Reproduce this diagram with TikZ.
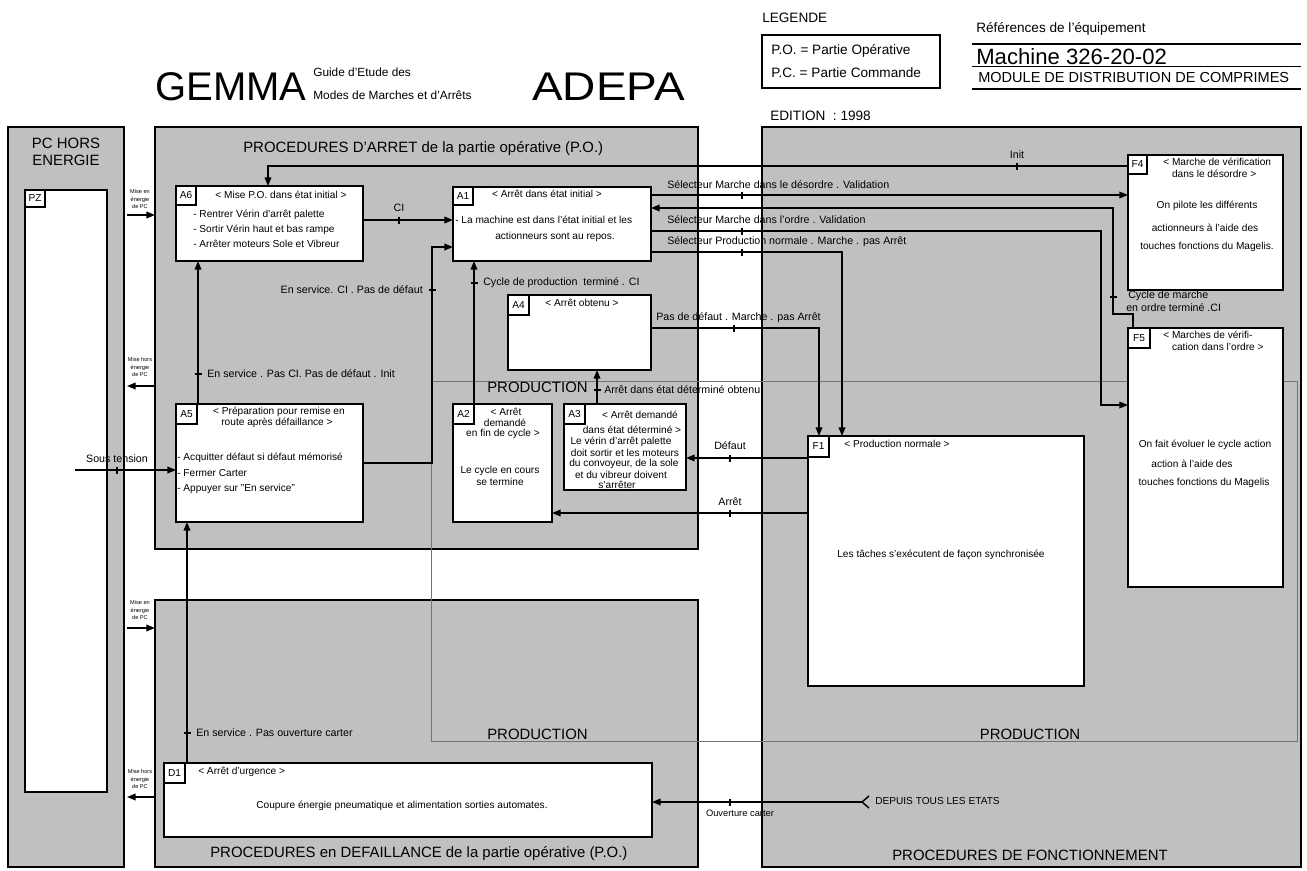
\documentclass[tikz,border=0pt]{standalone}
\usepackage{fontspec}
\setmainfont{Liberation Sans}
\usetikzlibrary{arrows.meta}
\definecolor{pgray}{RGB}{192,192,192}
\definecolor{lgray}{RGB}{115,115,115}
\newcommand\fsBox{\fontsize{7.6}{9}\selectfont}
\newcommand\fsLab{\fontsize{8}{9.5}\selectfont}
\newcommand\fsTit{\fontsize{11.2}{13}\selectfont}
\newcommand\fsTiny{\fontsize{4.2}{5.6}\selectfont}
\newcommand\fsHead{\fontsize{10.2}{12}\selectfont}
\newcommand\gbox[6]{%
  \pgfmathsetmacro\gbW{(#5-#3)*0.75}%
  \pgfmathsetmacro\gbH{(#6-#4)*0.75}%
  \node[#2,anchor=north west,minimum width=\gbW pt,minimum height=\gbH pt,inner sep=0pt,outer sep=0pt] (#1) at (#3,#4) {};}
\tikzset{
  panel/.style={draw=black,line width=1.5pt,fill=pgray},
  stepbox/.style={draw=black,line width=1.6pt,fill=white},
  lab/.style={draw=black,line width=1.4pt,fill=white},
  tx/.style={font=\fsBox,inner sep=0pt},
  lb/.style={font=\fsLab,inner sep=0pt},
  tit/.style={font=\fsTit,inner sep=0pt},
  tinylab/.style={font=\fsTiny,inner sep=0pt,align=center},
  hd/.style={font=\fsHead,inner sep=0pt},
  conn/.style={line width=1.15pt,-{Triangle[length=6.5pt,width=5pt]}},
  prod/.style={draw=lgray,line width=0.7pt},
  vtk/.pic={\draw[line width=0.9pt] (0,-3.5) -- (0,3.5);},
  htk/.pic={\draw[line width=0.9pt] (-3.5,0) -- (3.5,0);},
}
\begin{document}
\begin{tikzpicture}[x=0.75pt,y=-0.75pt]
\useasboundingbox (0,0) rectangle (1307,871);
\fill[white] (0,0) rectangle (1307,871);

% ---------- header ----------
\node[font=\fontsize{30}{30}\selectfont,inner sep=0pt,anchor=base west] (gemma) at (155,100) {GEMMA};
\node[font=\fontsize{8.9}{10}\selectfont,inner sep=0pt,anchor=west] (guide1) at (313,72) {Guide d'Etude des};
\node[font=\fontsize{8.9}{10}\selectfont,inner sep=0pt,anchor=west] (guide2) at (313,95) {Modes de Marches et d'Arrêts};
\node[font=\fontsize{30}{30}\selectfont,inner sep=0pt,anchor=base west] (adepa) at (532,100) {\scalebox{1.15}[1]{ADEPA}};
\node[hd,anchor=west] (legende) at (762,18) {LEGENDE};
\gbox{legbox}{draw=black,line width=1.5pt}{762}{35}{940}{88}
\node[hd,anchor=west] (po) at (771,51) {P.O. = Partie Opérative};
\node[hd,anchor=west] (pc) at (771,73) {P.C. = Partie Commande};
\node[hd,anchor=west] (refs) at (976,29) {Références de l'équipement};
\draw[line width=1pt] (972,44) -- (1301,44);
\node[font=\fontsize{16.6}{18}\selectfont,inner sep=0pt,anchor=base west] (mach) at (976,64) {Machine 326-20-02};
\draw[line width=1pt] (972,66.5) -- (1301,66.5);
\node[font=\fontsize{10.9}{12}\selectfont,inner sep=0pt,anchor=west] (module) at (978,77.5) {MODULE DE DISTRIBUTION DE COMPRIMES};
\draw[line width=1pt] (972,89) -- (1301,89);
\node[hd,anchor=west] (edition) at (770,116) {EDITION~ : 1998};

% ---------- panels ----------
\gbox{PZP}{panel}{8}{127}{124}{867}
\gbox{PAR}{panel}{155}{127}{698}{549}
\gbox{PDF}{panel}{155}{600}{698}{867}
\gbox{PFN}{panel}{762}{127}{1301}{867}

\node[tit,align=center] (pchors) at (66,152) {PC HORS\\ENERGIE};
\node[tit,anchor=west] (tPAR) at (243,149) {PROCEDURES D'ARRET de la partie opérative (P.O.)};
\node[tit,anchor=west] (tPDF) at (210,854) {PROCEDURES en DEFAILLANCE de la partie opérative (P.O.)};
\node[tit] (tPFN) at (1030,855) {PROCEDURES DE FONCTIONNEMENT};

% PRODUCTION zone
\draw[prod] (431,381) rectangle (1297,741);
\node[tit,anchor=west] (prod1) at (487,387) {PRODUCTION};
\node[tit,anchor=west] (prod2) at (487,734) {PRODUCTION};
\node[tit] (prod3) at (1030,734) {PRODUCTION};

% ---------- boxes ----------
\gbox{PZ}{stepbox}{25}{190}{107}{792}
\gbox{PZl}{lab}{25}{190}{45}{207}
\node[tx] (PZn) at (PZl.center) {PZ};

\gbox{A6}{stepbox}{176}{186}{363}{261}
\gbox{A6l}{lab}{176}{186}{196}{205}
\node[tx] (A6n) at (A6l.center) {A6};
\node[tx] (A6t) at (281,195) {< Mise P.O. dans état initial >};
\node[tx,anchor=west] (A6b1) at (193,215) {- Rentrer Vérin d'arrêt palette};
\node[tx,anchor=west] (A6b2) at (193,229.5) {- Sortir Vérin haut et bas rampe};
\node[tx,anchor=west] (A6b3) at (193,244) {- Arrêter moteurs Sole et Vibreur};

\gbox{A1}{stepbox}{453}{187}{651}{261}
\gbox{A1l}{lab}{453}{187}{473}{205}
\node[tx] (A1n) at (A1l.center) {A1};
\node[tx] (A1t) at (547,194) {< Arrêt dans état initial >};
\node[tx,anchor=west] (A1b1) at (455,220) {- La machine est dans l'état initial et les};
\node[tx] (A1b2) at (555,237) {actionneurs sont au repos.};

\gbox{A4}{stepbox}{508}{295}{651}{370}
\gbox{A4l}{lab}{508}{295}{529}{315}
\node[tx] (A4n) at (A4l.center) {A4};
\node[tx] (A4t) at (582,303) {< Arrêt obtenu >};

\gbox{A5}{stepbox}{176}{404}{363}{522}
\gbox{A5l}{lab}{176}{404}{197}{424}
\node[tx] (A5n) at (A5l.center) {A5};
\node[tx] (A5t1) at (279,412) {< Préparation pour remise en};
\node[tx] (A5t2) at (277,423) {route après défaillance >};
\node[tx,anchor=west] (A5b1) at (177,458) {- Acquitter défaut si défaut mémorisé};
\node[tx,anchor=west] (A5b2) at (177,473) {- Fermer Carter};
\node[tx,anchor=west] (A5b3) at (177,489) {- Appuyer sur "En service"};

\gbox{A2}{stepbox}{453}{404}{552}{522}
\gbox{A2l}{lab}{453}{404}{474}{424}
\node[tx] (A2n) at (A2l.center) {A2};
\node[tx] (A2t1) at (506,412) {< Arrêt};
\node[tx] (A2t2) at (505,423) {demandé};
\node[tx] (A2t3) at (503,434) {en fin de cycle >};
\node[tx] (A2b1) at (500,471) {Le cycle en cours};
\node[tx] (A2b2) at (500,482) {se termine};

\gbox{A3}{stepbox}{564}{404}{686}{490}
\gbox{A3l}{lab}{564}{404}{585}{424}
\node[tx] (A3n) at (A3l.center) {A3};
\node[tx] (A3t1) at (640,415) {< Arrêt demandé};
\node[tx] (A3t2) at (632,430) {dans état déterminé >};
\node[tx] (A3b1) at (621,442) {Le vérin d'arrêt palette};
\node[tx] (A3b2) at (625,453) {doit sortir et les moteurs};
\node[tx] (A3b3) at (624,464) {du convoyeur, de la sole};
\node[tx] (A3b4) at (621,475) {et du vibreur doivent};
\node[tx] (A3b5) at (617,484.5) {s'arrêter};

\gbox{F1}{stepbox}{808}{436}{1084}{686}
\gbox{F1l}{lab}{808}{436}{829}{457}
\node[tx] (F1n) at (F1l.center) {F1};
\node[tx] (F1t) at (897,444) {< Production normale >};
\node[tx] (F1b) at (941,555) {Les tâches s'exécutent de façon synchronisée};

\gbox{F4}{stepbox}{1128}{155}{1283}{290}
\gbox{F4l}{lab}{1128}{155}{1147}{174}
\node[tx] (F4n) at (F4l.center) {F4};
\node[tx,anchor=north west,align=left] (F4t) at (1163,158) {< Marche de vérification\\\phantom{<} dans le désordre >};
\node[tx] (F4b1) at (1207,206) {On pilote les différents};
\node[tx] (F4b2) at (1205,228) {actionneurs à l'aide des};
\node[tx] (F4b3) at (1207,247) {touches fonctions du Magelis.};

\gbox{F5}{stepbox}{1128}{328}{1283}{587}
\gbox{F5l}{lab}{1128}{328}{1150}{348}
\node[tx] (F5n) at (F5l.center) {F5};
\node[tx,anchor=north west,align=left] (F5t) at (1163,331) {< Marches de vérifi-\\\phantom{<} cation dans l'ordre >};
\node[tx] (F5b1) at (1205,445) {On fait évoluer le cycle action};
\node[tx] (F5b2) at (1192,464) {action à l'aide des};
\node[tx] (F5b3) at (1204,483) {touches fonctions du Magelis};

\gbox{D1}{stepbox}{164}{763}{652}{837}
\gbox{D1l}{lab}{164}{763}{185}{783}
\node[tx] (D1n) at (D1l.center) {D1};
\node[tx,anchor=west] (D1t) at (198,772) {< Arrêt d'urgence >};
\node[tx] (D1b) at (402,806) {Coupure énergie pneumatique et alimentation sorties automates.};

% ---------- connectors ----------
% Init : F4 -> A6
\draw[conn] (F4.west |- 0,166) -| (A6.north -| 268,0);
\pic at (1017,166) {vtk};
\node[lb] (lInit) at (1017,155) {Init};

% CI : A6 -> A1
\draw[conn] (A6.east |- 0,220) -- (A1.west |- 0,220);
\pic at (399,220) {vtk};
\node[lb] (lCI) at (399,208) {CI};

% A5 -> A1
\draw[conn] (A5.east |- 0,463) -- (432,463) -- (432,247) -- (A1.west |- 0,247);
\pic at (432,290) {htk};
\node[lb,anchor=east] (lA5A1) at (423,290) {En service. CI . Pas de défaut};

% A5 -> A6
\draw[conn] (A5.north -| 198,0) -- (A6.south -| 198,0);
\pic at (198,374) {htk};
\node[lb,anchor=west] (lA5A6) at (207,374) {En service . Pas CI. Pas de défaut . Init};

% Sous tension -> A5
\coordinate (stsrc) at (75,470);
\draw[conn] (stsrc) -- (A5.west |- stsrc);
\pic at (117,470) {vtk};
\node[lb] (lst) at (117,459) {Sous tension};

% D1 -> A5
\draw[conn] (D1.north -| 187,0) -- (A5.south -| 187,0);
\pic at (187,733) {htk};
\node[lb,anchor=west] (lD1A5) at (196,733) {En service . Pas ouverture carter};

% A2 -> A1
\draw[conn] (A2.north -| 474,0) -- (A1.south -| 474,0);
\pic at (474,283) {htk};
\node[lb,anchor=west] (lA2A1) at (483,283) {Cycle de production~ terminé . CI};

% A3 -> A4
\draw[conn] (A3.north -| 597,0) -- (A4.south -| 597,0);
\pic at (597,390) {htk};
\node[lb,anchor=west] (lA3A4) at (604,390) {Arrêt dans état déterminé obtenu};

% A4 -> F1
\draw[conn] (A4.east |- 0,328) -| (F1.north -| 819,0);
\pic at (734,328) {vtk};
\node[lb,anchor=west] (lA4F1) at (656,318) {Pas de défaut . Marche . pas Arrêt};

% F1 -> A3
\draw[conn] (F1.west |- 0,458) -- (A3.east |- 0,458);
\pic at (730,458) {vtk};
\node[lb] (lDef) at (730,446) {Défaut};

% F1 -> A2
\draw[conn] (F1.west |- 0,513) -- (A2.east |- 0,513);
\pic at (730,513) {vtk};
\node[lb] (lArr) at (730,502) {Arrêt};

% A1 -> F4
\draw[conn] (A1.east |- 0,195) -- (F4.west |- 0,195);
\pic at (742,195) {vtk};
\node[lb,anchor=west] (lA1F4) at (667,185) {Sélecteur Marche dans le désordre . Validation};

% F5 -> A1
\draw[conn] (F5.north -| 1133,0) -- (1133,314) -- (1113,314) -- (1113,208) -- (A1.east |- 0,208);
\pic at (1113,297) {htk};
\node[lb,anchor=west] (lF5A1a) at (1128,296) {Cycle de marche};
\node[lb,anchor=west] (lF5A1b) at (1126,308) {en ordre terminé .CI};

% A1 -> F5
\draw[conn] (A1.east |- 0,231) -- (1101,231) -- (1101,405) -- (F5.west |- 0,405);
\pic at (742,231) {vtk};
\node[lb,anchor=west] (lA1F5) at (667,220) {Sélecteur Marche dans l'ordre . Validation};

% A1 -> F1
\draw[conn] (A1.east |- 0,252) -| (F1.north -| 842,0);
\pic at (742,252) {vtk};
\node[lb,anchor=west] (lA1F1) at (667,242) {Sélecteur Production normale . Marche . pas Arrêt};

% Mise en / hors energie
\draw[conn] (PZP.east |- 0,215) ++(3,0) -- (PAR.west |- 0,215);
\node[tinylab] (me1) at (140,199) {Mise en\\énergie\\de PC};
\draw[conn] (PAR.west |- 0,386) -- ([xshift=2.25pt]PZP.east |- 0,386);
\node[tinylab] (mh1) at (140,367) {Mise hors\\énergie\\de PC};
\draw[conn] (PZP.east |- 0,628) ++(3,0) -- (PDF.west |- 0,628);
\node[tinylab] (me2) at (140,610) {Mise en\\énergie\\de PC};
\draw[conn] (PDF.west |- 0,797) -- ([xshift=2.25pt]PZP.east |- 0,797);
\node[tinylab] (mh2) at (140,779) {Mise hors\\énergie\\de PC};

% Depuis tous les etats -> D1
\coordinate (dep) at (862,802);
\draw[conn] (dep) -- (D1.east |- dep);
\draw[line width=1.1pt] (869,796) -- (dep) -- (869,808);
\pic at (730,802) {vtk};
\node[font=\fontsize{7}{8}\selectfont,inner sep=0pt] (lOuv) at (740,813) {Ouverture carter};
\node[font=\fontsize{7.6}{9}\selectfont,inner sep=0pt,anchor=west] (lDep) at (875,801) {DEPUIS TOUS LES ETATS};
\end{tikzpicture}
\end{document}
